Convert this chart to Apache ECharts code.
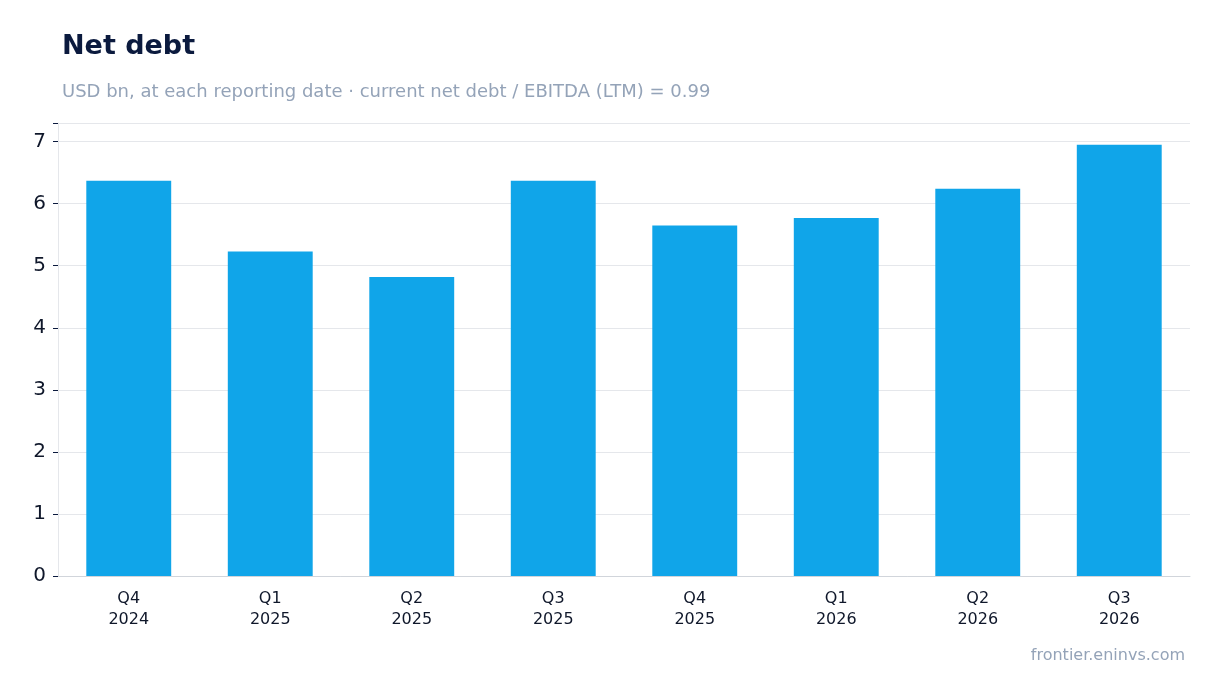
<!DOCTYPE html>
<html>
<head>
<meta charset="utf-8">
<script src="https://cdn.jsdelivr.net/npm/echarts@6/dist/echarts.min.js"></script>
<style>
  html, body { margin: 0; padding: 0; background: #fff; }
  #chart { width: 1220px; height: 693px; }
</style>
</head>
<body>
<div id="chart"></div>
<script>
// net debt, USD bn
var categories = ['Q4\n2024', 'Q1\n2025', 'Q2\n2025', 'Q3\n2025', 'Q4\n2025', 'Q1\n2026', 'Q2\n2026', 'Q3\n2026'];
var netDebt = [6.37, 5.23, 4.82, 6.37, 5.65, 5.77, 6.24, 6.95];

var myChart = echarts.init(document.getElementById('chart'));

var option = {
    textStyle: { fontFamily: 'DejaVu Sans' },
    title: [{
        text: 'Net debt',
        left: 57, top: 28,
        textStyle: { fontSize: 27, fontWeight: 'bold', color: '#0b1a3e' }
    }, {
        text: 'USD bn, at each reporting date · current net debt / EBITDA (LTM) = 0.99',
        left: 57, top: 78,
        textStyle: { fontSize: 18, fontWeight: 'normal', color: '#94a3b8' }
    }, {
        text: 'frontier.eninvs.com',
        right: 30, top: 643,
        textStyle: { fontSize: 16, fontWeight: 'normal', color: '#94a3b8' }
    }],
    grid: { left: 58, right: 30, top: 123, bottom: 117 },
    xAxis: {
        type: 'category',
        data: categories,
        axisLine: { lineStyle: { color: '#d1d5db' } },
        axisTick: { alignWithLabel: true, lineStyle: { color: '#0b1a3e' } },
        axisLabel: { color: '#0f172a', fontSize: 16, lineHeight: 21, margin: 12 }
    },
    yAxis: {
        type: 'value',
        min: 0, max: 7.3, interval: 1,
        axisLine: { show: true, lineStyle: { color: '#e5e7eb' } },
        axisTick: { show: true, length: 5, lineStyle: { color: '#0b1a3e' } },
        splitLine: { lineStyle: { color: '#e5e7eb' } },
        axisLabel: {
            color: '#0f172a', fontSize: 20, margin: 12,
            formatter: function(v) { return Math.abs(v - Math.round(v)) < 1e-6 ? String(v) : ''; }
        }
    },
    series: [{
        type: 'bar',
        data: netDebt,
        barWidth: '60%',
        itemStyle: { color: '#10a5e9' }
    }]
};

myChart.setOption(option);
</script>
</body>
</html>
